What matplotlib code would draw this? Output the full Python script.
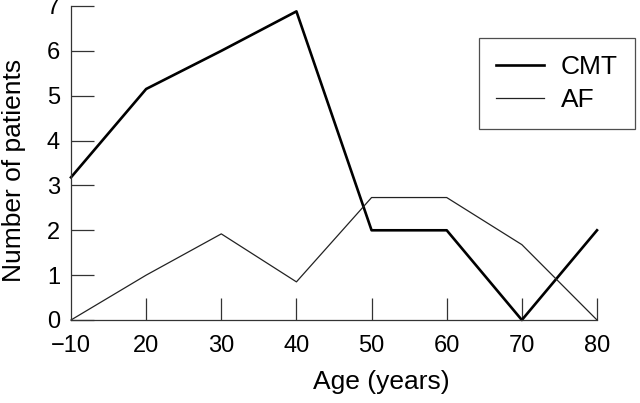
import numpy as np
import matplotlib
matplotlib.use('Agg')
import matplotlib.pyplot as plt

plt.rcParams['font.family'] = ['Liberation Sans', 'DejaVu Sans']

# data
age_labels = ['\u221210', '20', '30', '40', '50', '60', '70', '80']
cmt = [3.18, 5.15, 6.0, 6.88, 2.0, 2.0, 0.0, 2.0]
af = [0.0, 1.0, 1.92, 0.85, 2.73, 2.73, 1.68, 0.0]
y_ticks = [0, 1, 2, 3, 4, 5, 6, 7]

fig = plt.figure(figsize=(6.4, 4.03), dpi=100)
ax = fig.add_axes([71 / 640, 1 - 320 / 403, 526 / 640, 314 / 403])

x = np.arange(len(age_labels))
ax.plot(x, cmt, color='black', linewidth=1.9, label='CMT', clip_on=False)
ax.plot(x, af, color='#222222', linewidth=0.9, label='AF', clip_on=False)

ax.set_xlim(0, len(age_labels) - 1)
ax.set_ylim(0, 7)
ax.set_xticks(x)
ax.set_xticklabels(age_labels)
ax.set_yticks(y_ticks)

for s in ['top', 'right']:
    ax.spines[s].set_visible(False)
for s in ['left', 'bottom']:
    ax.spines[s].set_linewidth(0.9)
    ax.spines[s].set_color('#333333')

ax.tick_params(axis='y', direction='in', length=16.5, width=0.9, color='#333333',
               labelsize=17, pad=8)
ax.tick_params(axis='x', direction='in', length=16, width=0.9, color='#333333',
               labelsize=17, pad=11)
ax.xaxis.get_major_ticks()[0].tick1line.set_visible(False)

ax.set_xlabel('Age (years)', fontsize=19)
ax.xaxis.set_label_coords(0.59, -0.16)
ax.set_ylabel('Number of patients', fontsize=19)
ax.yaxis.set_label_coords(-0.085, 0.475)

leg = ax.legend(loc='upper left', bbox_to_anchor=(479 / 640, 1 - 38 / 403),
                bbox_transform=fig.transFigure, fontsize=19, frameon=True,
                fancybox=False, edgecolor='#222222', handlelength=1.8,
                handletextpad=0.65, borderpad=0.66, labelspacing=0.32,
                borderaxespad=0)
leg.get_frame().set_linewidth(0.9)

fig.savefig('out.png', dpi=100)
